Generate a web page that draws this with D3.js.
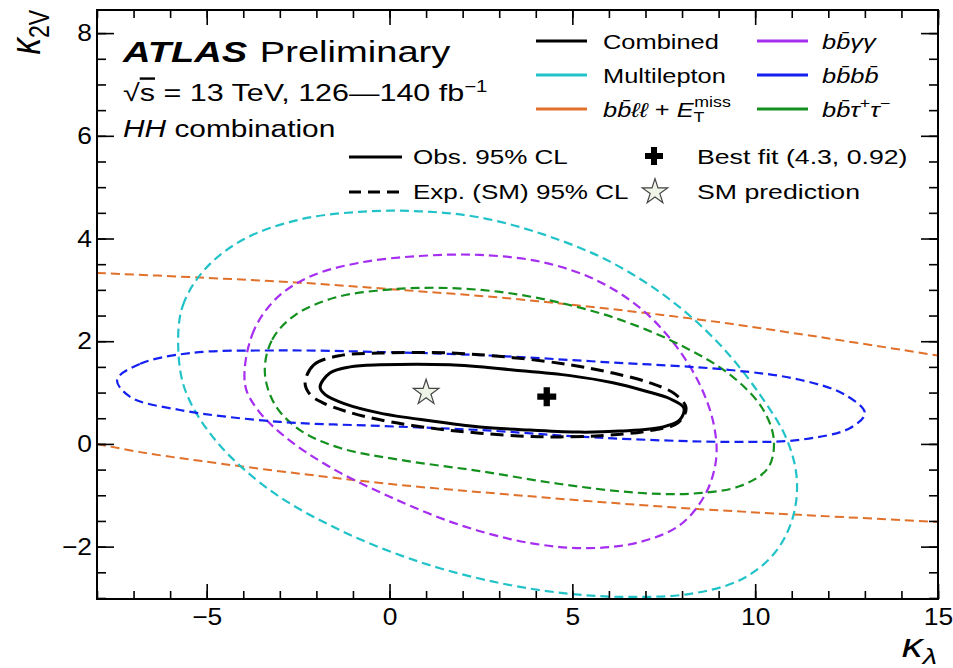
<!DOCTYPE html>
<html>
<head>
<meta charset="utf-8">
<script src="https://cdn.jsdelivr.net/npm/d3@7"></script>
<style>
  body { margin: 0; background: #fff; }
  svg text { font-family: "Liberation Sans", Arial, sans-serif; fill: #000; }
</style>
</head>
<body>
<div id="chart"></div>
<script>
// contour points, [kappa_lambda, kappa_2V]
const obsCombined = [
  [-1.90, 1.11], [-1.63, 1.38], [-1.08, 1.50], [-0.26, 1.54], [1.65, 1.54], [3.38, 1.44], [4.94, 1.33],
  [6.11, 1.19], [6.99, 1.03], [7.67, 0.88], [8.05, 0.70], [7.94, 0.47], [7.48, 0.33], [6.30, 0.25],
  [5.21, 0.23], [3.84, 0.27], [2.47, 0.33], [1.11, 0.45], [-0.26, 0.60], [-1.22, 0.78], [-1.76, 0.96]
];
const expCombined = [
  [-2.31, 1.19], [-2.07, 1.54], [-1.35, 1.72], [-0.26, 1.77], [1.65, 1.77], [3.38, 1.68], [4.94, 1.54],
  [6.11, 1.38], [7.12, 1.19], [7.81, 0.97], [8.11, 0.70], [7.89, 0.41], [7.04, 0.25], [5.76, 0.16],
  [4.12, 0.14], [2.47, 0.21], [1.11, 0.31], [-0.26, 0.47], [-1.22, 0.64], [-1.82, 0.80], [-2.17, 0.96]
];
const multilepton = [
  [-5.78, 1.93], [-5.65, 2.70], [-5.05, 3.40], [-4.0, 3.98], [-2.45, 4.37], [-0.81, 4.52], [0.83, 4.53],
  [2.47, 4.41], [4.25, 4.07], [6.03, 3.55], [7.67, 2.81], [9.04, 1.93], [10.13, 0.96], [10.87, 0.08],
  [11.14, -0.70], [11.01, -1.48], [10.49, -2.16], [9.59, -2.65], [8.22, -2.92], [6.58, -2.98],
  [4.94, -2.92], [3.02, -2.71], [0.83, -2.30], [-1.35, -1.68], [-3.27, -0.90], [-4.77, 0.08], [-5.59, 1.05]
];
const bbyy = [
  [-3.95, 1.15], [-3.76, 2.12], [-3.13, 2.81], [-2.17, 3.26], [-0.81, 3.53], [0.83, 3.66], [2.47, 3.68],
  [4.12, 3.55], [5.62, 3.20], [6.85, 2.65], [7.81, 1.93], [8.49, 1.15], [8.87, 0.37], [8.93, -0.31],
  [8.63, -0.99], [7.94, -1.58], [6.85, -1.91], [5.48, -2.03], [3.84, -1.93], [1.93, -1.58],
  [0.01, -1.03], [-1.63, -0.45], [-2.86, 0.14], [-3.60, 0.66]
];
const bbbb = [
  [-7.45, 1.25], [-6.82, 1.56], [-5.45, 1.77], [-3.0, 1.82], [-0.26, 1.79], [2.47, 1.73], [5.75, 1.60],
  [9.31, 1.44], [11.22, 1.25], [12.45, 0.96], [13.0, 0.60], [12.6, 0.31], [11.22, 0.08], [9.31, 0.04],
  [5.75, 0.12], [2.47, 0.27], [-0.26, 0.35], [-3.0, 0.43], [-5.73, 0.66], [-7.1, 0.92]
];
const bbtautau = [
  [-3.41, 1.40], [-3.21, 2.03], [-2.58, 2.51], [-1.49, 2.85], [-0.12, 3.00], [1.38, 3.04], [3.02, 2.96],
  [4.66, 2.75], [6.30, 2.42], [7.94, 1.93], [9.31, 1.35], [10.19, 0.70], [10.51, 0.08], [10.35, -0.47],
  [9.59, -0.82], [8.22, -0.97], [6.58, -0.94], [4.66, -0.78], [2.47, -0.53], [0.29, -0.31],
  [-1.35, -0.08], [-2.45, 0.27], [-3.13, 0.76]
];
const bbllUpper = [
  [-8, 3.33], [-5.18, 3.24], [-2.45, 3.14], [0.28, 3.0], [3.02, 2.85], [5.75, 2.65], [8.49, 2.42],
  [11.22, 2.14], [15, 1.72]
];
const bbllLower = [
  [-8, 0.0], [-6.82, -0.16], [-5.18, -0.33], [-2.45, -0.58], [0.28, -0.80], [3.02, -0.97],
  [5.75, -1.13], [8.49, -1.27], [11.22, -1.38], [15, -1.52]
];
const bestFit = [4.3, 0.92];
const smPoint = [1, 1];

const xTicks = [-5, 0, 5, 10, 15];
const yTicks = [-2, 0, 2, 4, 6, 8];

const colors = {
  black: "#000000",
  cyan: "#22c3c8",
  orange: "#e0702a",
  purple: "#a52ef0",
  blue: "#1420f0",
  green: "#14901e"
};

// the reference is stretched sideways, text included
const SX = 1.27;
const SX_TICK = 1.1;

const W = 953, H = 668;
const margin = { top: 10, right: 15, bottom: 69, left: 97 };
const pw = W - margin.left - margin.right;
const ph = H - margin.top - margin.bottom;

const svg = d3.select("#chart").append("svg")
  .attr("width", W).attr("height", H);

const x = d3.scaleLinear().domain([-8, 15]).range([margin.left, margin.left + pw]);
const y = d3.scaleLinear().domain([-3.02, 8.45]).range([margin.top + ph, margin.top]);

svg.append("clipPath").attr("id", "plot-clip")
  .append("rect").attr("x", margin.left).attr("y", margin.top)
  .attr("width", pw).attr("height", ph);

const plot = svg.append("g").attr("clip-path", "url(#plot-clip)");

const closed = d3.line().x(d => x(d[0])).y(d => y(d[1])).curve(d3.curveCatmullRomClosed.alpha(0.5));
const open = d3.line().x(d => x(d[0])).y(d => y(d[1])).curve(d3.curveCatmullRom.alpha(0.5));

function contour(pts, gen, color, width, dash) {
  plot.append("path")
    .attr("d", gen(pts))
    .attr("fill", "none")
    .attr("stroke", color)
    .attr("stroke-width", width)
    .attr("stroke-dasharray", dash);
}

contour(bbllUpper, open, colors.orange, 2, "9,5");
contour(bbllLower, open, colors.orange, 2, "9,5");
contour(multilepton, closed, colors.cyan, 2.2, "9,5");
contour(bbyy, closed, colors.purple, 2.2, "9,5");
contour(bbtautau, closed, colors.green, 2.2, "9,5");
contour(bbbb, closed, colors.blue, 2.2, "9,5");
contour(expCombined, closed, colors.black, 3, "13,7");
contour(obsCombined, closed, colors.black, 3, null);

// markers
plot.append("path")
  .attr("d", d3.symbol(d3.symbolCross, 200)())
  .attr("transform", `translate(${x(bestFit[0])},${y(bestFit[1])})`)
  .attr("fill", "#000");
plot.append("path")
  .attr("d", d3.symbol(d3.symbolStar, 200)())
  .attr("transform", `translate(${x(smPoint[0])},${y(smPoint[1])})`)
  .attr("fill", "#eef4e6").attr("stroke", "#444").attr("stroke-width", 1.2);

// axes: ticks on all four sides, pointing inwards
function minor(lo, hi, step) {
  const out = [];
  for (let v = lo; v <= hi + 1e-9; v += step) out.push(+v.toFixed(2));
  return out;
}
const xMinor = minor(-8, 15, 1);
const yMinor = minor(-3, 8, 0.5);

function drawAxis(axisFn, scale, major, minorVals, majLen, minLen, pos, labels) {
  const g = svg.append("g").attr("transform", pos);
  g.call(axisFn(scale).tickValues(minorVals).tickSize(-minLen).tickFormat(""));
  const m = svg.append("g").attr("transform", pos);
  m.call(axisFn(scale).tickValues(major).tickSize(-majLen).tickPadding(majLen + 6)
    .tickFormat(labels ? d => d < 0 ? "\u2212" + Math.abs(d) : d : ""));
  [g, m].forEach(a => {
    a.select(".domain").remove();
    a.selectAll("line").attr("stroke", "#000").attr("stroke-width", 1.6);
  });
  m.selectAll("text").attr("font-size", 24).style("font-family", "Liberation Sans, Arial, sans-serif")
    .attr("transform", `scale(${SX_TICK},1)`);
  return m;
}

const bx = drawAxis(d3.axisBottom, x, xTicks, xMinor, 15, 8, `translate(0,${margin.top + ph})`, true);
bx.selectAll("text").attr("dy", "0.95em").attr("y", 3);
drawAxis(d3.axisTop, x, xTicks, xMinor, 15, 8, `translate(0,${margin.top})`, false);
const ly = drawAxis(d3.axisLeft, y, yTicks, yMinor, 17, 9, `translate(${margin.left},0)`, true);
ly.selectAll("text").attr("x", -5 / SX_TICK);
drawAxis(d3.axisRight, y, yTicks, yMinor, 17, 9, `translate(${margin.left + pw},0)`, false);

svg.append("rect")
  .attr("x", margin.left).attr("y", margin.top).attr("width", pw).attr("height", ph)
  .attr("fill", "none").attr("stroke", "#000").attr("stroke-width", 2);

function label(px, py, size, anchor) {
  return svg.append("text")
    .attr("transform", `translate(${px},${py}) scale(${SX},1)`)
    .attr("font-size", size)
    .attr("text-anchor", anchor || "start");
}

// axis titles
const xt = label(937, 657, 0, "end");
xt.append("tspan").text("\u03ba").attr("font-size", 33).attr("font-style", "italic");
xt.append("tspan").text("\u03bb").attr("font-size", 23).attr("font-style", "italic").attr("dy", 7);

const yt = svg.append("text").attr("transform", `translate(40,10) rotate(-90) scale(1,${SX})`).attr("text-anchor", "end");
yt.append("tspan").text("\u03ba").attr("font-size", 33).attr("font-style", "italic");
yt.append("tspan").text("2V").attr("font-size", 23).attr("dy", 7);

// ATLAS label
const t1 = label(123, 62, 30);
t1.append("tspan").text("ATLAS").attr("font-weight", "bold").attr("font-style", "italic");
t1.append("tspan").text("Preliminary").attr("dx", 10);

const t2 = label(123, 101, 24);
t2.append("tspan").text("\u221a");
t2.append("tspan").text("s").style("text-decoration", "overline");
t2.append("tspan").text(" = 13 TeV, 126\u2014140 fb");
t2.append("tspan").text("\u22121").attr("font-size", 16).attr("dy", -9);

const t3 = label(123, 137, 23.5);
t3.append("tspan").text("HH").attr("font-style", "italic");
t3.append("tspan").text(" combination");

// channel legend
const channelNames = ["Combined", "Multilepton", "bbll", "bbyy", "bbbb", "bbtautau"];
const channelColors = [colors.black, colors.cyan, colors.orange, colors.purple, colors.blue, colors.green];
const legendRows = [41, 75, 109];
const legendCols = [{ lx: 536, tx: 603 }, { lx: 757, tx: 822 }];

channelNames.forEach((name, i) => {
  const col = legendCols[Math.floor(i / 3)];
  const ry = legendRows[i % 3];
  svg.append("line").attr("x1", col.lx).attr("x2", col.lx + 51).attr("y1", ry).attr("y2", ry)
    .attr("stroke", channelColors[i]).attr("stroke-width", 3);
  const t = label(col.tx, ry + 8, 20);
  const it = (s) => t.append("tspan").text(s).attr("font-style", "italic");
  if (name === "Combined" || name === "Multilepton") {
    t.text(name);
  } else if (name === "bbll") {
    it("bb\u0304\u2113\u2113");
    t.append("tspan").text(" + ");
    it("E");
    t.append("tspan").text("T").attr("font-size", 14).attr("dy", 5);
    t.append("tspan").text("miss").attr("font-size", 14).attr("dx", -8).attr("dy", -15);
  } else if (name === "bbyy") {
    it("bb\u0304\u03b3\u03b3");
  } else if (name === "bbbb") {
    it("bb\u0304bb\u0304");
  } else {
    it("bb\u0304\u03c4");
    t.append("tspan").text("+").attr("font-size", 14).attr("dy", -9);
    it("\u03c4").attr("dy", 9);
    t.append("tspan").text("\u2212").attr("font-size", 14).attr("dy", -9);
  }
});

// CL / marker legend
svg.append("line").attr("x1", 349).attr("x2", 402).attr("y1", 157).attr("y2", 157)
  .attr("stroke", "#000").attr("stroke-width", 3);
svg.append("line").attr("x1", 349).attr("x2", 402).attr("y1", 192).attr("y2", 192)
  .attr("stroke", "#000").attr("stroke-width", 3).attr("stroke-dasharray", "12,7");
label(413, 164, 20.5).text("Obs. 95% CL");
label(413, 199, 20.5).text("Exp. (SM) 95% CL");
svg.append("path").attr("d", d3.symbol(d3.symbolCross, 180)())
  .attr("transform", "translate(654,156)").attr("fill", "#000");
svg.append("path").attr("d", d3.symbol(d3.symbolStar, 200)())
  .attr("transform", "translate(655,192)")
  .attr("fill", "#eef4e6").attr("stroke", "#444").attr("stroke-width", 1.2);
label(697, 164, 21).text(`Best fit (${bestFit[0]}, ${bestFit[1]})`);
label(697, 199, 21).text("SM prediction");
</script>
</body>
</html>
